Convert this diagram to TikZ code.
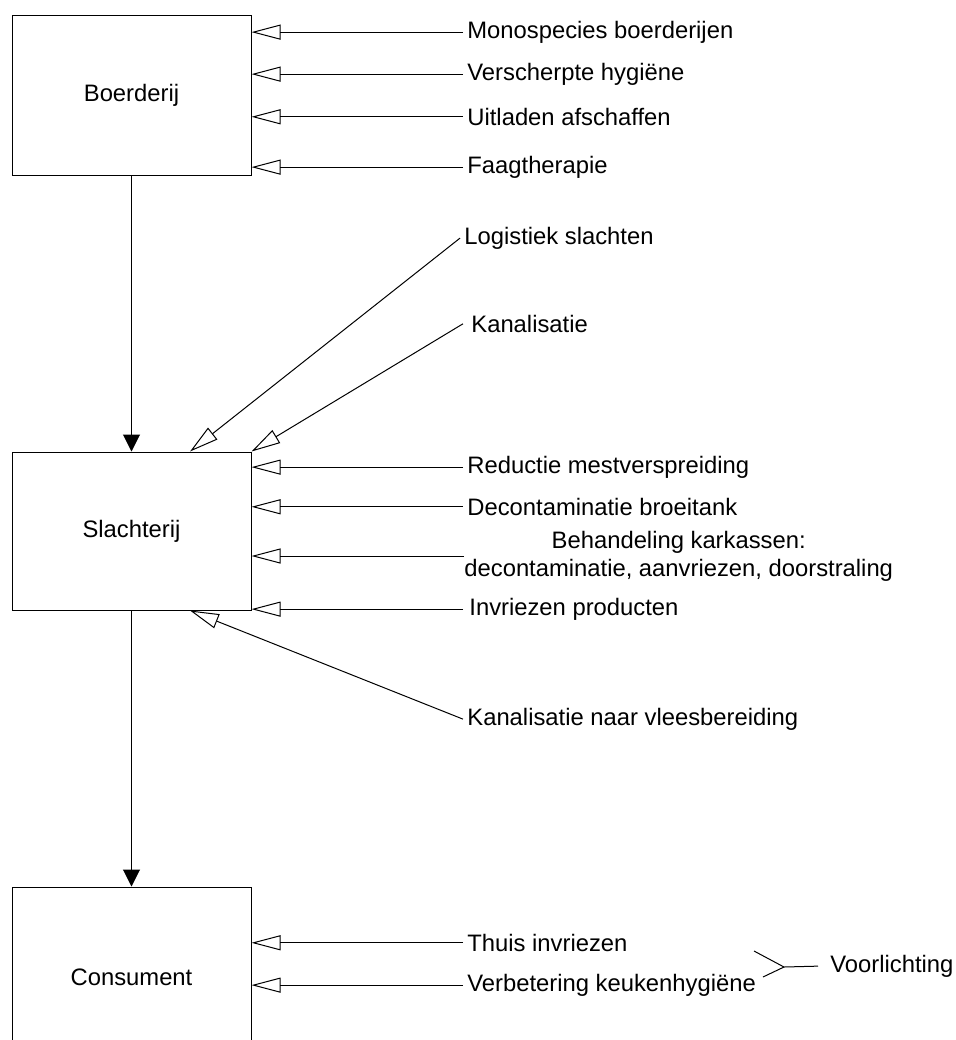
\documentclass[tikz,border=0pt]{standalone}
\usepackage{fontspec}
\setmainfont{Liberation Sans}
\usetikzlibrary{arrows.meta,positioning,calc}

\tikzset{
	stage/.style={draw, line width=0.5pt, minimum width=119.5pt, inner sep=0pt},
	measure/.style={anchor=mid west, inner xsep=2pt, inner ysep=0pt},
	flow/.style={-{Triangle[length=8.5pt,width=8.5pt]}, line width=0.5pt},
	feed/.style={-{Triangle[open,length=14.5pt,width=7.5pt]}, line width=0.5pt}
}

\begin{document}
\begin{tikzpicture}[
		x=0.5pt,y=-0.5pt,
		every node/.style={font=\fontsize{11.9}{14}\selectfont}
		]
		\useasboundingbox (0,0) rectangle (955,1040);
		\clip (0,0) rectangle (955,1040);
		
		% =========================
		% Chain: farm, slaughterhouse, consumer
		% =========================
		\node[stage, minimum height=80pt] (boer) at (131.5,95) {Boerderij};
		\node[stage, minimum height=79pt] (slacht) at (131.5,531) {Slachterij};
		\node[stage, minimum height=90pt] (cons) at (131.5,977) {Consument};
		
		\draw[flow] (boer) -- (slacht);
		\draw[flow] (slacht) -- (cons);
		
		% =========================
		% Measures at the farm
		% =========================
		\node[measure] (mono) at (463,33) {Monospecies boerderijen};
		\node[measure] (hyg) at (463,75) {Verscherpte hygiëne};
		\node[measure] (uitl) at (463,120) {Uitladen afschaffen};
		\node[measure] (faag) at (463,168) {Faagtherapie};
		
		\foreach \m in {mono,hyg,uitl,faag}
		\draw[feed] (\m.west) -- (\m.west -| boer.east);
		
		% =========================
		% Measures at the slaughterhouse
		% =========================
		\node[measure] (logi) at (460,239) {Logistiek slachten};
		\node[measure, inner xsep=4pt] (kanal) at (463,327) {Kanalisatie};
		\node[measure] (mest) at (463,468) {Reductie mestverspreiding};
		\node[measure] (broei) at (463,510) {Decontaminatie broeitank};
		\node[anchor=west, inner sep=0pt, align=center] (karkas) at (464,556)
		{Behandeling karkassen:\\decontaminatie, aanvriezen, doorstraling};
		\node[measure, inner xsep=3pt] (invr) at (463,610) {Invriezen producten};
		\node[measure] (vlees) at (463,720) {Kanalisatie naar vleesbereiding};
		
		\draw[feed] (logi.west) -- ([xshift=29.25pt]slacht.north);
		\draw[feed] (kanal.west) -- (slacht.north east);
		\foreach \m in {mest,broei,karkas,invr}
		\draw[feed] (\m.west) -- (\m.west -| slacht.east);
		\draw[feed] (vlees.west) -- ([xshift=29.25pt]slacht.south);
		
		% =========================
		% Measures at the consumer
		% =========================
		\node[measure] (thuis) at (463,946) {Thuis invriezen};
		\node[measure] (keuken) at (463,986) {Verbetering keukenhygiëne};
		
		\foreach \m in {thuis,keuken}
		\draw[feed] (\m.west) -- (\m.west -| cons.east);
		
		% information fork
		\node[measure, inner xsep=6pt] (voor) at (818,967) {Voorlichting};
		\coordinate (fork) at (784,967);
		\coordinate (fork-up) at (754,951);
		\coordinate (fork-down) at (763,977);
		\draw[line width=0.5pt] (voor.west) -- (fork) -- (fork-up);
		\draw[line width=0.5pt] (fork) -- (fork-down);
		
	\end{tikzpicture}
\end{document}
